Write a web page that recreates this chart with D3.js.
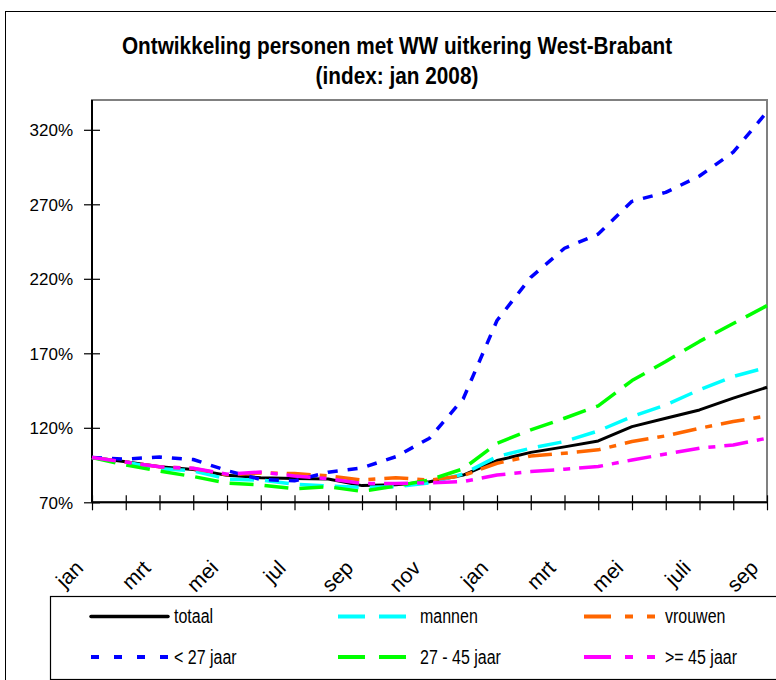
<!DOCTYPE html>
<html>
<head>
<meta charset="utf-8">
<script src="https://cdn.jsdelivr.net/npm/d3@7"></script>
<style>
  html, body { margin: 0; padding: 0; background: #fff; }
  svg { display: block; }
  text { font-family: "Liberation Sans", Arial, sans-serif; }
</style>
</head>
<body>
<svg id="chart" width="776" height="680"></svg>
<script>
// ---- data ----
const months = ["jan","feb","mrt","apr","mei","jun","jul","aug","sep","okt","nov","dec",
                "jan","feb","mrt","apr","mei","jun","juli","aug","sep"];
const tickLabelEvery = 2;
const yTicks = [70, 120, 170, 220, 270, 320];

const totaal     = [100, 97.2, 93.8, 92.0, 88.2, 86.5, 86.0, 85.6, 81.2, 81.8, 83.8, 88.3, 98.0, 103.5, 107.2, 111.2, 120.8, 126.4, 132.0, 139.9, 147.2];
const mannen     = [100, 97.0, 92.5, 91.1, 85.6, 84.9, 82.2, 81.0, 80.0, 80.4, 83.0, 89.0, 100.7, 106.3, 110.8, 117.9, 127.5, 135.4, 145.5, 154.4, 160.6];
const vrouwen    = [100, 97.0, 93.8, 92.7, 88.5, 89.7, 89.3, 87.7, 85.0, 86.5, 84.9, 87.9, 96.2, 101.1, 102.9, 105.2, 110.8, 114.6, 119.7, 124.2, 128.0];
const jonger27   = [100, 99.0, 100.4, 98.7, 91.3, 85.3, 84.4, 90.2, 93.1, 100.6, 113.0, 139.5, 192.0, 221.0, 240.5, 250.0, 272.0, 278.0, 289.0, 305.0, 332.0];
const jaar27_45  = [100, 95.1, 90.9, 87.3, 82.9, 81.6, 79.1, 80.4, 77.3, 80.9, 85.0, 92.5, 109.6, 118.6, 126.4, 134.7, 151.7, 164.5, 178.0, 190.0, 202.0];
const vanaf45    = [100, 97.0, 93.8, 92.9, 88.9, 90.3, 87.7, 85.8, 82.7, 82.7, 83.0, 83.9, 88.3, 90.6, 92.2, 94.0, 98.4, 102.4, 106.3, 108.5, 113.0];

const seriesNames = ["totaal", "mannen", "vrouwen", "< 27 jaar", "27 - 45 jaar", ">= 45 jaar"];
const seriesValues = [totaal, mannen, vrouwen, jonger27, jaar27_45, vanaf45];
const seriesColors = ["#000000", "#00FFFF", "#FF6600", "#0000FF", "#00FF00", "#FF00FF"];
const seriesDash   = [null, "24,11", "24,9,7,9", "10,10", "24,11", "24,9,7,9"];
const legendDash   = [null, "27,14", "27,14,8,14,8,14", "8,15", "27,14", "27,14,8,14,8,14"];

// ---- layout ----
const svg = d3.select("#chart");
const plot = { left: 92, right: 767, top: 100, bottom: 502.3 };

const x = d3.scaleLinear().domain([0, months.length - 1]).range([plot.left, plot.right]);
const y = d3.scaleLinear().domain([70, 340]).range([plot.bottom, plot.top]);

// outer border
svg.append("rect").attr("x", 5.5).attr("y", 11.5).attr("width", 820).attr("height", 720)
  .attr("fill", "#fff").attr("stroke", "#000").attr("stroke-width", 1);

// title (condensed look)
const title = svg.append("g").attr("transform", "translate(397,0) scale(0.866,1)")
  .append("text").attr("text-anchor", "middle").attr("font-weight", "bold")
  .attr("font-size", 24).attr("fill", "#000");
title.append("tspan").attr("x", 0).attr("y", 54).text("Ontwikkeling personen met WW uitkering West-Brabant");
title.append("tspan").attr("x", 0).attr("y", 84).text("(index: jan 2008)");

// plot frame (grey)
svg.append("rect").attr("x", plot.left).attr("y", plot.top)
  .attr("width", plot.right - plot.left).attr("height", plot.bottom - plot.top)
  .attr("fill", "none").attr("stroke", "#808080").attr("stroke-width", 2);

// y axis
const yAxis = d3.axisLeft(y).tickValues(yTicks).tickSize(0).tickPadding(0)
  .tickFormat(d => d + "%");
const gy = svg.append("g").attr("transform", `translate(${plot.left},0)`).call(yAxis);
gy.attr("font-family", null).attr("font-size", null);
gy.select(".domain").remove();
gy.selectAll(".tick text").attr("font-size", 17).attr("fill", "#000")
  .attr("x", -19).attr("dy", "0.36em");
gy.selectAll(".tick").append("line").attr("x1", -8).attr("x2", 8).attr("stroke", "#000").attr("stroke-width", 1.2);

// x axis
const xAxis = d3.axisBottom(x).tickValues(d3.range(months.length)).tickSize(0).tickFormat("");
const gx = svg.append("g").attr("transform", `translate(0,${plot.bottom})`).call(xAxis);
gx.attr("font-family", null).attr("font-size", null);
gx.select(".domain").remove();
gx.selectAll(".tick").append("line").attr("y1", -7).attr("y2", 8).attr("stroke", "#000").attr("stroke-width", 1.2);
gx.selectAll(".tick")
  .filter(d => d % tickLabelEvery === 0)
  .append("text")
  .attr("font-size", 21).attr("fill", "#000")
  .attr("text-anchor", "end")
  .attr("transform", "translate(-8,67) rotate(-45)")
  .text(d => months[d]);

// axis lines
svg.append("line").attr("x1", plot.left).attr("x2", plot.left).attr("y1", plot.top).attr("y2", plot.bottom)
  .attr("stroke", "#000").attr("stroke-width", 2);
svg.append("line").attr("x1", plot.left).attr("x2", plot.right).attr("y1", plot.bottom).attr("y2", plot.bottom)
  .attr("stroke", "#000").attr("stroke-width", 2);

// lines
const line = d3.line().x((d, i) => x(i)).y(d => y(d));
seriesValues.forEach((vals, k) => {
  svg.append("path").datum(vals)
    .attr("d", line)
    .attr("fill", "none")
    .attr("stroke", seriesColors[k])
    .attr("stroke-width", k === 0 ? 3 : 3.5)
    .attr("stroke-linejoin", "round")
    .attr("stroke-dasharray", seriesDash[k]);
});

// legend
svg.append("rect").attr("x", 50.5).attr("y", 596.5).attr("width", 760).attr("height", 83)
  .attr("fill", "#fff").attr("stroke", "#000").attr("stroke-width", 1.2);
const legCols = [{ x1: 91, x2: 168, tx: 174 }, { x1: 338, x2: 408, tx: 420 }, { x1: 584, x2: 658, tx: 665 }];
const legRows = [616.5, 657];
seriesNames.forEach((name, k) => {
  const c = legCols[k % 3], ry = legRows[Math.floor(k / 3)];
  svg.append("line").attr("x1", c.x1).attr("x2", c.x2).attr("y1", ry).attr("y2", ry)
    .attr("stroke", seriesColors[k]).attr("stroke-width", k === 0 ? 3.5 : 4)
    .attr("stroke-linecap", k === 0 ? "round" : "butt")
    .attr("stroke-dasharray", legendDash[k]);
  svg.append("g").attr("transform", `translate(${c.tx},${ry}) scale(0.82,1)`)
    .append("text").attr("x", 0).attr("y", 0).attr("dy", "0.35em")
    .attr("font-size", 19.5).attr("fill", "#000").text(name);
});
</script>
</body>
</html>
